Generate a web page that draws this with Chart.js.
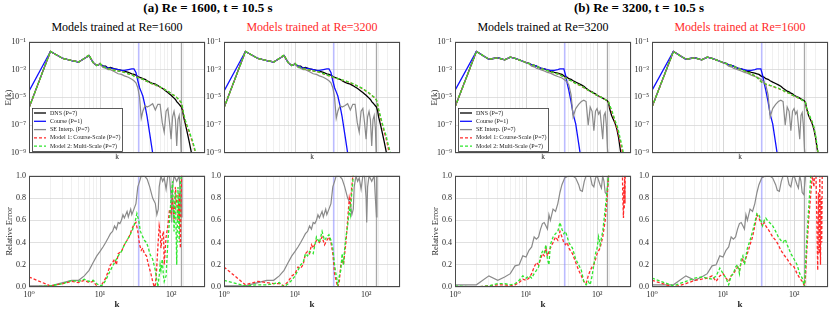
<!DOCTYPE html>
<html><head><meta charset="utf-8">
<script src="https://cdn.jsdelivr.net/npm/chart.js@4.4.0/dist/chart.umd.min.js"></script>
<style>
html,body{margin:0;padding:0;background:#fff;}
body{width:831px;height:310px;overflow:hidden;position:relative;font-family:'Liberation Serif','DejaVu Serif',serif;}
canvas{position:absolute;}
.t{position:absolute;text-align:center;white-space:nowrap;width:300px;font-family:'Liberation Serif','DejaVu Serif',serif;}
.h{font-weight:bold;font-size:13px;line-height:16px;top:0px;color:#000;}
.s{font-size:12px;line-height:14px;top:20px;}
</style></head><body>
<div class="t h" style="left:58px">(a) Re = 1600, t = 10.5 s</div>
<div class="t h" style="left:489px">(b) Re = 3200, t = 10.5 s</div>
<div class="t s" style="left:-33px;color:#000">Models trained at Re=1600</div>
<div class="t s" style="left:162px;color:#ff2a2a">Models trained at Re=3200</div>
<div class="t s" style="left:393px;color:#000">Models trained at Re=3200</div>
<div class="t s" style="left:590px;color:#ff2a2a">Models trained at Re=1600</div>
<script>
// ---------------- DATA ----------------
const legendLabels = ['DNS (P=7)','Course (P=1)','SE Interp. (P=7)','Model 1: Course-Scale (P=7)','Model 2: Multi-Scale (P=7)'];
const cutoffK = [35, 140];           // vertical reference lines (P=1 and P=7 resolution)
const yTopTicks = [1e-9,1e-7,1e-5,1e-3,1e-1];

const kSpec = [1,2,3,4,5,6,7,8,9,10,
 11,12,13,14,16,18,20,22,25,28,
 30,32,34,36,38,40,43,46,50,55,
 60,65,70,75,80,85,90,95,100,105,
 110,115,120,125,130,135,140,145,150,160,
 170,180,190,200,210,220,230,240,250];

// ---- Re = 1600 spectra ----
const dns1600 = [1.78e-6,2.0e-2,6.3e-3,4.5e-3,3.55e-3,6.3e-3,1.0e-2,3.16e-3,2.0e-3,2.5e-3,
 1.78e-3,1.78e-3,1.26e-3,1.41e-3,1.12e-3,1.0e-3,8.9e-4,7.9e-4,6.3e-4,5.0e-4,
 4.5e-4,4.0e-4,3.16e-4,2.8e-4,2.5e-4,2.24e-4,2.0e-4,1.58e-4,1.26e-4,1.0e-4,
 8.9e-5,7.1e-5,5.6e-5,4.5e-5,3.55e-5,2.8e-5,2.24e-5,1.78e-5,1.41e-5,1.12e-5,
 8.9e-6,7.1e-6,5.0e-6,4.0e-6,3.16e-6,2.5e-6,2.0e-6,1.12e-6,4.0e-7,1.0e-7,
 2.5e-8,6.3e-9,1.58e-9,4.0e-10,null,null,null,null,null];
const course1600 = [2.8e-5,2.0e-2,6.3e-3,4.5e-3,3.55e-3,6.3e-3,1.0e-2,3.16e-3,2.0e-3,2.5e-3,
 1.78e-3,1.58e-3,1.26e-3,1.26e-3,1.12e-3,1.0e-3,8.9e-4,8.9e-4,1.0e-3,1.12e-3,
 1.12e-3,6.3e-4,1.58e-4,5.0e-5,2.5e-5,1.26e-5,2.5e-6,4.0e-7,2.5e-8,1.0e-9,
 1.58e-10,null,null,null,null,null,null,null,null,null,
 null,null,null,null,null,null,null,null,null,null,
 null,null,null,null,null,null,null,null,null];
const se1600 = [1.78e-6,2.0e-2,6.3e-3,4.5e-3,3.55e-3,6.3e-3,1.0e-2,3.16e-3,2.0e-3,2.5e-3,
 1.41e-3,1.26e-3,1.0e-3,1.0e-3,7.1e-4,5.0e-4,4.5e-4,3.55e-4,2.8e-4,2.0e-4,
 1.58e-4,1.12e-4,5.0e-5,1.0e-5,3.16e-7,1.0e-6,2.5e-6,2.0e-6,2.5e-6,3.55e-6,
 1.26e-6,3.16e-6,3.16e-6,1.58e-7,3.16e-8,1.0e-6,1.58e-6,1.58e-7,1.0e-8,4.0e-7,
 1.0e-6,2.5e-7,3.16e-9,2.5e-7,5.0e-7,6.3e-8,3.16e-10,null,null,null,
 null,null,null,null,null,null,null,null,null];
const m1Re1600Tr1600 = [1.78e-6,2.0e-2,6.3e-3,4.5e-3,3.55e-3,6.3e-3,1.12e-2,3.16e-3,2.0e-3,2.8e-3,
 1.58e-3,1.41e-3,1.12e-3,1.12e-3,8.9e-4,7.9e-4,7.1e-4,6.3e-4,5.0e-4,4.5e-4,
 3.55e-4,3.16e-4,2.8e-4,2.5e-4,2.24e-4,2.0e-4,1.58e-4,1.41e-4,1.12e-4,8.9e-5,
 7.9e-5,6.3e-5,5.6e-5,4.5e-5,4.0e-5,3.16e-5,2.8e-5,2.24e-5,2.0e-5,1.58e-5,
 1.41e-5,1.12e-5,1.0e-5,7.9e-6,6.3e-6,5.0e-6,4.0e-6,1.58e-6,6.3e-7,1.58e-7,
 6.3e-8,3.16e-8,1.26e-8,6.3e-9,2.5e-9,1.0e-9,4.0e-10,null,null];
const m2Re1600Tr1600 = [1.78e-6,2.0e-2,6.3e-3,4.5e-3,3.55e-3,6.3e-3,1.12e-2,3.16e-3,2.0e-3,2.8e-3,
 1.58e-3,1.41e-3,1.12e-3,1.12e-3,8.9e-4,7.9e-4,7.1e-4,6.3e-4,5.0e-4,4.2e-4,
 3.4e-4,3.0e-4,2.7e-4,2.5e-4,2.24e-4,2.0e-4,1.6e-4,1.41e-4,1.15e-4,9.2e-5,
 8.1e-5,6.5e-5,5.8e-5,4.6e-5,4.0e-5,3.2e-5,2.9e-5,2.3e-5,2.0e-5,1.6e-5,
 1.41e-5,1.15e-5,1.0e-5,8.1e-6,6.5e-6,5.2e-6,4.2e-6,1.8e-6,7.1e-7,2.0e-7,
 7.9e-8,4.0e-8,1.58e-8,7.9e-9,3.16e-9,1.26e-9,5.0e-10,null,null];
const m1Re1600Tr3200 = [1.78e-6,2.0e-2,6.3e-3,4.5e-3,3.55e-3,6.3e-3,1.12e-2,3.16e-3,2.0e-3,2.8e-3,
 1.58e-3,1.41e-3,1.12e-3,1.12e-3,8.9e-4,7.9e-4,7.1e-4,6.3e-4,5.0e-4,4.0e-4,
 3.55e-4,3.16e-4,2.8e-4,2.5e-4,2.34e-4,2.24e-4,2.0e-4,1.78e-4,1.58e-4,1.32e-4,
 1.12e-4,9.5e-5,7.9e-5,6.6e-5,5.6e-5,4.8e-5,4.0e-5,3.4e-5,2.8e-5,2.4e-5,
 2.0e-5,1.66e-5,1.41e-5,1.17e-5,1.0e-5,7.9e-6,6.3e-6,3.16e-6,1.26e-6,3.16e-7,
 1.0e-7,3.16e-8,1.26e-8,4.0e-9,1.26e-9,4.0e-10,null,null,null];
const m2Re1600Tr3200 = [1.78e-6,2.0e-2,6.3e-3,4.5e-3,3.55e-3,6.3e-3,1.12e-2,3.16e-3,2.0e-3,2.8e-3,
 1.58e-3,1.41e-3,1.12e-3,1.12e-3,9.2e-4,8.1e-4,7.3e-4,6.5e-4,5.2e-4,4.2e-4,
 3.7e-4,3.3e-4,2.9e-4,2.6e-4,2.4e-4,2.24e-4,2.0e-4,1.8e-4,1.6e-4,1.35e-4,
 1.15e-4,9.8e-5,8.1e-5,6.8e-5,5.8e-5,5.0e-5,4.2e-5,3.5e-5,2.9e-5,2.5e-5,
 2.1e-5,1.7e-5,1.45e-5,1.2e-5,1.02e-5,8.1e-6,6.5e-6,3.5e-6,1.41e-6,4.0e-7,
 1.26e-7,4.5e-8,2.0e-8,6.3e-9,2.5e-9,1.0e-9,4.0e-10,null,null];

// ---- Re = 3200 spectra ----
const dns3200 = [2.0e-6,2.0e-2,5.6e-3,7.1e-3,5.0e-3,7.9e-3,6.3e-3,5.0e-3,4.0e-3,3.16e-3,
 2.8e-3,2.24e-3,2.0e-3,1.78e-3,1.26e-3,1.12e-3,8.9e-4,7.9e-4,6.3e-4,5.6e-4,
 5.0e-4,4.5e-4,3.55e-4,3.16e-4,2.8e-4,2.24e-4,2.0e-4,1.58e-4,1.26e-4,1.0e-4,
 7.9e-5,6.3e-5,4.5e-5,3.55e-5,2.8e-5,2.5e-5,2.0e-5,1.78e-5,1.41e-5,1.26e-5,
 1.12e-5,1.0e-5,8.9e-6,7.9e-6,7.1e-6,6.3e-6,5.6e-6,4.0e-6,1.58e-6,5.0e-7,
 2.5e-7,1.26e-7,5.0e-8,1.41e-8,2.5e-9,5.0e-10,null,null,null];
const course3200 = [3.16e-5,2.0e-2,5.6e-3,7.1e-3,5.0e-3,7.9e-3,6.3e-3,5.0e-3,4.0e-3,3.16e-3,
 2.8e-3,2.24e-3,2.0e-3,1.78e-3,1.26e-3,1.12e-3,1.0e-3,8.9e-4,8.9e-4,1.0e-3,
 1.12e-3,1.12e-3,1.12e-3,4.0e-4,1.0e-4,3.16e-5,5.0e-6,6.3e-7,1.26e-7,5.0e-9,
 2.5e-10,null,null,null,null,null,null,null,null,null,
 null,null,null,null,null,null,null,null,null,null,
 null,null,null,null,null,null,null,null,null];
const se3200 = [2.0e-6,2.0e-2,5.6e-3,7.1e-3,5.0e-3,7.9e-3,6.3e-3,5.0e-3,4.0e-3,3.16e-3,
 2.5e-3,1.78e-3,1.58e-3,1.26e-3,1.0e-3,7.9e-4,6.3e-4,5.6e-4,4.0e-4,3.16e-4,
 2.8e-4,2.5e-4,2.0e-4,1.58e-4,1.26e-4,7.9e-5,1.58e-5,4.0e-7,1.58e-6,3.16e-6,
 5.0e-6,6.3e-6,5.0e-6,1.0e-7,2.0e-6,1.0e-6,4.0e-8,1.0e-6,1.58e-6,6.3e-7,
 1.0e-6,1.0e-7,1.0e-8,5.0e-7,7.9e-7,1.0e-7,2.0e-9,3.16e-10,null,null,
 null,null,null,null,null,null,null,null,null];
const m1Re3200Tr3200 = [2.0e-6,2.0e-2,5.6e-3,7.1e-3,5.0e-3,7.9e-3,6.3e-3,5.0e-3,4.0e-3,3.16e-3,
 2.8e-3,2.24e-3,2.0e-3,1.78e-3,1.26e-3,1.0e-3,8.9e-4,7.1e-4,5.6e-4,5.0e-4,
 4.0e-4,3.55e-4,2.8e-4,2.5e-4,2.24e-4,1.78e-4,1.58e-4,1.26e-4,1.0e-4,7.9e-5,
 6.3e-5,5.0e-5,4.0e-5,3.16e-5,2.8e-5,2.24e-5,2.0e-5,1.58e-5,1.41e-5,1.26e-5,
 1.12e-5,1.0e-5,8.9e-6,7.9e-6,7.1e-6,6.3e-6,5.6e-6,4.5e-6,2.5e-6,1.0e-6,
 4.0e-7,1.58e-7,6.3e-8,2.5e-8,7.9e-9,2.5e-9,7.9e-10,null,null];
const m2Re3200Tr3200 = [2.0e-6,2.0e-2,5.6e-3,7.1e-3,5.0e-3,7.9e-3,6.3e-3,5.0e-3,4.0e-3,3.16e-3,
 2.8e-3,2.24e-3,2.0e-3,1.78e-3,1.26e-3,1.0e-3,8.5e-4,7.1e-4,5.8e-4,4.8e-4,
 4.1e-4,3.5e-4,2.9e-4,2.5e-4,2.2e-4,1.8e-4,1.6e-4,1.28e-4,1.02e-4,8.1e-5,
 6.5e-5,5.2e-5,4.1e-5,3.3e-5,2.8e-5,2.3e-5,2.0e-5,1.6e-5,1.41e-5,1.26e-5,
 1.12e-5,1.0e-5,8.9e-6,7.9e-6,7.1e-6,6.3e-6,5.6e-6,4.6e-6,2.8e-6,1.26e-6,
 5.0e-7,2.0e-7,1.0e-7,4.0e-8,1.26e-8,5.0e-9,1.58e-9,5.0e-10,null];
const m1Re3200Tr1600 = [2.0e-6,2.0e-2,5.6e-3,7.1e-3,5.0e-3,7.9e-3,6.3e-3,5.0e-3,4.0e-3,3.16e-3,
 2.8e-3,2.24e-3,2.0e-3,1.78e-3,1.26e-3,1.0e-3,7.9e-4,6.3e-4,5.0e-4,3.55e-4,
 2.8e-4,2.0e-4,1.41e-4,1.12e-4,1.0e-4,8.9e-5,7.9e-5,7.1e-5,6.3e-5,5.0e-5,
 4.5e-5,3.55e-5,3.16e-5,2.5e-5,2.24e-5,2.0e-5,1.58e-5,1.41e-5,1.26e-5,1.12e-5,
 1.0e-5,8.9e-6,7.9e-6,7.1e-6,6.3e-6,5.6e-6,5.0e-6,4.0e-6,1.58e-6,6.3e-7,
 3.16e-7,1.58e-7,6.3e-8,1.58e-8,3.16e-9,5.0e-10,null,null,null];
const m2Re3200Tr1600 = [2.0e-6,2.0e-2,5.6e-3,7.1e-3,5.0e-3,7.9e-3,6.3e-3,5.0e-3,4.0e-3,3.16e-3,
 2.8e-3,2.24e-3,2.0e-3,1.78e-3,1.26e-3,1.0e-3,8.1e-4,6.5e-4,5.0e-4,3.6e-4,
 2.7e-4,1.95e-4,1.41e-4,1.15e-4,1.0e-4,9.2e-5,8.1e-5,7.3e-5,6.5e-5,5.2e-5,
 4.6e-5,3.7e-5,3.2e-5,2.6e-5,2.3e-5,2.0e-5,1.6e-5,1.45e-5,1.28e-5,1.14e-5,
 1.02e-5,9.1e-6,8.1e-6,7.2e-6,6.4e-6,5.7e-6,5.1e-6,4.1e-6,1.7e-6,7.1e-7,
 3.5e-7,1.78e-7,7.1e-8,2.0e-8,4.0e-9,7.1e-10,null,null,null];

// ---- relative errors, Re = 1600 ----
const seErrK1600 = [1,2,3,4,5,6,7,8,9,10,11,12,13,14,15,16,17,18,19,20,21,22,24,25,27,28,30,32,34,36,38,42,46,50,55,60,63,66,68,72,76,80,85,90,95,100,102,105,110,120,130,135,140,142,150,200,300];
const seErr1600 = [0.01,0.01,0.04,0.06,0.06,0.1,0.15,0.22,0.28,0.32,0.36,0.4,0.44,0.48,0.5,0.55,0.52,0.58,0.57,0.6,0.65,0.62,
 0.68,0.63,0.7,0.65,0.7,0.75,0.9,0.95,1.0,
 1.0,0.97,0.9,0.8,0.75,0.65,0.7,0.9,1.0,0.95,0.98,0.88,1.0,1.0,0.8,0.58,0.9,1.0,0.95,1.0,0.8,0.63,1.0,1.0,1.0,1.0];
const m1ErrK1600Tr1600 = [1,2,3,4,5,6,7,8,9,10,11,12,13,14,15,16,17,18,20,22,24,26,28,30,32,34,36,38,40,42,45,48,52,55,58,60,62,65,68,70,72,75,78,80,85,90,95,100,105,110,115,120,125,130,135,140,145];
const m1Err1600Tr1600 = [0.09,0.01,0.03,0.05,0.04,0.06,0.04,0.05,0.01,0.0,0.04,0.08,0.14,0.2,0.22,0.25,0.2,0.3,
 0.32,0.38,0.42,0.46,0.52,0.56,0.58,0.5,0.38,0.33,0.35,0.3,
 0.28,0.2,0.12,0.05,0.0,0.02,0.12,0.35,0.55,0.5,0.35,0.45,0.5,0.2,
 0.45,0.55,0.7,0.65,0.8,0.6,0.9,0.75,0.6,0.85,0.35,1.0,1.2];
const m2ErrK1600Tr1600 = [1,2,3,4,5,6,7,8,9,10,11,12,14,16,18,20,22,24,26,28,30,32,33,35,37,40,42,45,48,50,55,60,65,68,70,72,75,78,80,85,90,95,100,105,110,115,120,125,130,135,140,145];
const m2Err1600Tr1600 = [0.0,0.01,0.03,0.06,0.05,0.07,0.05,0.06,0.03,0.01,0.02,0.06,
 0.15,0.22,0.28,0.32,0.38,0.42,0.46,0.5,0.55,0.62,0.66,0.6,0.5,0.45,0.42,0.4,0.35,0.3,
 0.25,0.15,0.0,0.1,0.2,0.15,0.25,0.1,0.05,
 0.1,0.4,0.6,0.8,0.95,0.5,0.85,0.2,0.9,0.4,0.95,1.0,1.2];
const m1ErrK1600Tr3200 = [1,2,3,4,5,6,7,8,9,10,11,12,13,14,15,16,17,18,20,22,24,26,28,30,32,34,36,38,40,42,44,46,48,50,52,55,58,60,62,65,68];
const m1Err1600Tr3200 = [0.18,0.02,0.05,0.04,0.03,0.03,0.01,0.05,0.1,0.12,0.18,0.17,0.2,0.3,0.32,0.3,0.38,0.35,
 0.42,0.4,0.45,0.38,0.42,0.45,0.4,0.3,0.12,0.05,0.0,0.05,0.2,0.25,0.2,0.3,0.4,
 0.6,0.8,0.75,0.85,1.0,1.2];
const m2ErrK1600Tr3200 = [1,2,3,4,5,6,7,8,9,10,11,12,13,14,15,16,18,20,22,24,26,28,30,32,34,36,38,40,42,44,46,48,50,52,55,58,60,62,65,70];
const m2Err1600Tr3200 = [0.06,0.01,0.02,0.02,0.03,0.04,0.0,0.03,0.06,0.1,0.15,0.2,0.22,0.3,0.28,0.32,
 0.3,0.45,0.4,0.5,0.42,0.45,0.47,0.42,0.35,0.2,0.1,0.02,0.1,0.15,0.3,0.2,0.35,0.45,
 0.55,0.7,0.65,0.8,0.95,1.2];

// ---- relative errors, Re = 3200 ----
const seErrK3200 = [1,2,3,4,5,6,7,8,9,10,11,12,13,14,15,16,17,18,19,20,21,22,24,26,28,30,32,35,40,45,50,55,58,62,66,70,80,85,90,95,100,110,115,120,125,130,137,140,145,150,200,300];
const seErr3200 = [0.02,0.02,0.1,0.06,0.09,0.12,0.19,0.2,0.28,0.27,0.33,0.36,0.45,0.43,0.45,0.52,0.57,0.58,0.55,0.52,0.65,0.6,
 0.7,0.68,0.75,0.85,0.92,0.98,1.0,1.0,0.98,0.92,0.87,0.86,0.95,1.0,
 1.0,0.92,0.9,0.98,1.0,0.92,0.89,1.0,0.95,0.85,0.83,0.9,1.0,1.0,1.0,1.0];
const m1ErrK3200Tr3200 = [1,2,3,4,5,6,7,8,9,10,11,12,13,14,15,16,17,18,19,20,22,24,26,28,30,32,34,36,38,40,45,50,55,60,65,70,75,80,85,90,95,100,110,120,130,140,145,150,225,230,235,238,241,244,247,250];
const m1Err3200Tr3200 = [0.0,0.0,0.01,0.02,0.02,0.01,0.02,0.04,0.07,0.06,0.08,0.12,0.18,0.22,0.2,0.25,0.3,0.28,0.35,0.28,
 0.35,0.4,0.45,0.42,0.5,0.45,0.4,0.38,0.4,0.35,
 0.3,0.22,0.15,0.1,0.05,0.03,0.1,0.15,0.18,0.2,0.25,0.3,
 0.35,0.45,0.6,0.85,1.0,1.2,
 1.2,0.8,0.62,0.9,0.7,1.0,0.75,1.2];
const m2ErrK3200Tr3200 = [1,2,3,4,5,6,7,8,9,10,11,12,13,14,15,16,17,18,19,20,21,22,24,26,28,30,32,34,36,38,40,45,50,55,60,65,70,75,80,85,90,95,100,105,110,120,130,140,145,150];
const m2Err3200Tr3200 = [0.01,0.0,0.01,0.03,0.03,0.02,0.03,0.06,0.1,0.08,0.1,0.08,0.12,0.15,0.18,0.28,0.32,0.3,0.38,0.25,0.2,0.38,
 0.45,0.48,0.5,0.58,0.52,0.48,0.5,0.45,0.4,
 0.35,0.25,0.2,0.15,0.05,0.02,0.05,0.02,0.1,0.2,0.3,0.35,0.45,0.38,
 0.5,0.7,0.9,1.0,1.2];
const m1ErrK3200Tr1600 = [1,2,3,4,5,6,7,8,9,10,11,12,13,14,15,16,17,18,19,20,22,24,26,28,30,32,34,36,38,40,45,50,55,60,65,70,80,90,100,110,120,130,140,145,150,160,170,180,190,200,205,210,215,220,225,230,235,240,245,250];
const m1Err3200Tr1600 = [0.06,0.0,0.03,0.06,0.07,0.08,0.1,0.05,0.1,0.12,0.08,0.05,0.1,0.12,0.15,0.18,0.15,0.22,0.25,0.22,
 0.3,0.38,0.45,0.55,0.65,0.62,0.58,0.55,0.58,0.55,
 0.5,0.45,0.42,0.38,0.33,0.3,
 0.25,0.2,0.18,0.12,0.08,0.05,0.01,
 0.1,0.3,0.6,0.8,1.0,0.9,1.2,
 0.9,0.5,0.15,0.85,0.3,1.0,0.2,0.8,0.4,1.2];
const m2ErrK3200Tr1600 = [1,2,3,4,5,6,7,8,9,10,11,12,13,14,15,16,17,18,19,20,22,24,26,28,30,32,34,36,38,40,42,45,50,55,60,65,70,75,80,90,100,110,120,130,140,145,150,160,170,175];
const m2Err3200Tr1600 = [0.08,0.01,0.05,0.08,0.09,0.08,0.07,0.1,0.17,0.12,0.08,0.02,0.1,0.12,0.18,0.2,0.12,0.25,0.28,0.2,
 0.35,0.42,0.5,0.58,0.66,0.65,0.6,0.55,0.6,0.62,0.6,
 0.58,0.55,0.5,0.45,0.42,0.4,0.43,0.38,
 0.3,0.25,0.2,0.12,0.08,0.0,
 0.2,0.4,0.7,0.95,1.2];

// ---------------- RENDERING ----------------
Chart.defaults.font.family = "'Liberation Serif','DejaVu Serif',serif";
Chart.defaults.font.size = 8;
Chart.defaults.color = '#262626';

const SUP = {'0':'\u2070','1':'\u00b9','2':'\u00b2','3':'\u00b3','4':'\u2074','5':'\u2075','6':'\u2076','7':'\u2077','8':'\u2078','9':'\u2079','-':'\u207b'};
function pow10Label(v){
  const l = Math.log10(v), e = Math.round(l);
  if (Math.abs(l - e) > 1e-6) return '';
  return '10' + String(e).split('').map(c => SUP[c]).join('');
}
function isDecade(v){ const l=Math.log10(v); return Math.abs(l-Math.round(l))<1e-6; }

const COL = {dns:'#000000', course:'#1010ff', se:'#8a8a8a', m1:'#ff2a2a', m2:'#2ee62e'};

function series(label, ks, vals, color, width, dash, order){
  return {label, data: ks.map((k,i)=>({x:k, y:vals[i]})), borderColor:color, borderWidth:width,
          borderDash:dash||[], pointRadius:0, tension:0, fill:false, spanGaps:false, order, inLegend:true};
}
function vline(k, y0, y1, color, width){
  return {label:'', data:[{x:k,y:y0},{x:k,y:y1}], borderColor:color, borderWidth:width,
          pointRadius:0, fill:false, order:10, inLegend:false};
}

const framePlugin = { id:'frame', afterDatasetsDraw(chart){
  const {ctx, chartArea:a} = chart; ctx.save();
  ctx.strokeStyle='#4a4a4a'; ctx.lineWidth=1;
  ctx.strokeRect(Math.round(a.left)+0.5, Math.round(a.top)+0.5, Math.round(a.right-a.left)-1, Math.round(a.bottom-a.top)-1);
  ctx.restore(); } };

const boxLegend = { id:'boxLegend', afterDatasetsDraw(chart, args, opts){
  if (!opts || !opts.display) return;
  const ctx = chart.ctx, a = chart.chartArea;
  const items = chart.data.datasets.filter(d => d.inLegend);
  const w = 90, h = 43, x0 = a.left + 3, y0 = a.bottom - 2 - h;
  ctx.save();
  ctx.fillStyle = '#fff'; ctx.fillRect(x0, y0, w, h);
  ctx.strokeStyle = '#333'; ctx.lineWidth = 0.8; ctx.strokeRect(x0+0.5, y0+0.5, w, h);
  ctx.font = "6px 'Liberation Serif'"; ctx.textBaseline = 'middle';
  items.forEach((d,i) => {
    const y = y0 + 5 + i*8.3;
    ctx.strokeStyle = d.borderColor; ctx.lineWidth = 1.3; ctx.setLineDash(d.borderDash && d.borderDash.length ? [3,2] : []);
    ctx.beginPath(); ctx.moveTo(x0+2, y); ctx.lineTo(x0+14, y); ctx.stroke(); ctx.setLineDash([]);
    ctx.fillStyle = '#222'; ctx.fillText(d.label, x0+18, y);
  });
  ctx.restore(); } };

const colLeft = [29, 224, 455, 652];
const gridX = ctx => (ctx.tick && isDecade(ctx.tick.value)) ? '#cdcdcd' : '#ececec';

function mkCanvas(col, top, h){
  const cv = document.createElement('canvas');
  cv.width = 208; cv.height = h;
  cv.style.left = (colLeft[col]-29) + 'px'; cv.style.top = top + 'px';
  document.body.appendChild(cv); return cv.getContext('2d');
}

function topChart(col, s, yTitle, legend){
  const ds = [
    vline(cutoffK[0], 1e-9, 1e-1, 'rgba(120,120,255,0.5)', 1.6),
    vline(cutoffK[1], 1e-9, 1e-1, '#a8a8a8', 1.3),
    series(legendLabels[0], kSpec, s.dns, COL.dns, 1.3, null, 5),
    series(legendLabels[1], kSpec, s.course, COL.course, 1.3, null, 4),
    series(legendLabels[2], kSpec, s.se, COL.se, 1.2, null, 3),
    series(legendLabels[3], kSpec, s.m1, COL.m1, 1.3, [3,2], 2),
    series(legendLabels[4], kSpec, s.m2, COL.m2, 1.3, [3,2], 1)
  ];
  new Chart(mkCanvas(col, 34, 128), {
    type:'line', data:{datasets:ds},
    plugins:[framePlugin, boxLegend],
    options:{
      responsive:false, animation:false, events:[],
      layout:{padding:{left:2, top:6, right:3, bottom:0}},
      plugins:{legend:{display:false}, tooltip:{enabled:false}, boxLegend:{display:legend}},
      scales:{
        x:{type:'logarithmic', min:1, max:300, afterFit:sc=>{sc.height=9;}, border:{display:false},
           grid:{color:gridX, drawTicks:false, lineWidth:0.8}, ticks:{display:false, autoSkip:false},
           title:{display:true, text:'k', font:{size:7.5}, padding:0}},
        y:{type:'logarithmic', min:1e-9, max:1e-1, afterFit:sc=>{sc.width=27;},
           afterBuildTicks:sc=>{sc.ticks = yTopTicks.map(v=>({value:v}));},
           border:{display:false}, grid:{color:'#d8d8d8', drawTicks:false, lineWidth:0.8},
           ticks:{padding:3, autoSkip:false, callback:v=>pow10Label(v)},
           title:{display:yTitle, text:'E(k)', font:{size:9}, padding:{top:1,bottom:0}}}
      }
    }
  });
}

function botChart(col, s, yTitle){
  const ds = [
    vline(cutoffK[0], 0, 1, 'rgba(120,120,255,0.5)', 1.6),
    vline(cutoffK[1], 0, 1, '#a8a8a8', 1.3),
    series(legendLabels[2], s.seK, s.se, COL.se, 1.2, null, 3),
    series(legendLabels[3], s.m1K, s.m1, COL.m1, 1.3, [3,2], 2),
    series(legendLabels[4], s.m2K, s.m2, COL.m2, 1.3, [3,2], 1)
  ];
  new Chart(mkCanvas(col, 168, 142), {
    type:'line', data:{datasets:ds},
    plugins:[framePlugin],
    options:{
      responsive:false, animation:false, events:[],
      layout:{padding:{left:2, top:6, right:3, bottom:0}},
      plugins:{legend:{display:false}, tooltip:{enabled:false}},
      scales:{
        x:{type:'logarithmic', min:1, max:300, afterFit:sc=>{sc.height=23;}, border:{display:false},
           grid:{color:gridX, drawTicks:false, lineWidth:0.8},
           ticks:{autoSkip:false, maxRotation:0, padding:3, callback:v=>pow10Label(v)},
           title:{display:true, text:'k', font:{size:9, weight:'bold'}, padding:0}},
        y:{type:'linear', min:0, max:1, afterFit:sc=>{sc.width=27;},
           border:{display:false}, grid:{color:'#d8d8d8', drawTicks:false, lineWidth:0.8},
           ticks:{padding:3, stepSize:0.2, callback:v=>Number(v).toFixed(1)},
           title:{display:yTitle, text:'Relative Error', font:{size:8.5}, padding:{top:3,bottom:0}}}
      }
    }
  });
}

topChart(0, {dns:dns1600, course:course1600, se:se1600, m1:m1Re1600Tr1600, m2:m2Re1600Tr1600}, true, true);
topChart(1, {dns:dns1600, course:course1600, se:se1600, m1:m1Re1600Tr3200, m2:m2Re1600Tr3200}, false, false);
topChart(2, {dns:dns3200, course:course3200, se:se3200, m1:m1Re3200Tr3200, m2:m2Re3200Tr3200}, true, true);
topChart(3, {dns:dns3200, course:course3200, se:se3200, m1:m1Re3200Tr1600, m2:m2Re3200Tr1600}, false, false);

botChart(0, {seK:seErrK1600, se:seErr1600, m1K:m1ErrK1600Tr1600, m1:m1Err1600Tr1600, m2K:m2ErrK1600Tr1600, m2:m2Err1600Tr1600}, true);
botChart(1, {seK:seErrK1600, se:seErr1600, m1K:m1ErrK1600Tr3200, m1:m1Err1600Tr3200, m2K:m2ErrK1600Tr3200, m2:m2Err1600Tr3200}, false);
botChart(2, {seK:seErrK3200, se:seErr3200, m1K:m1ErrK3200Tr3200, m1:m1Err3200Tr3200, m2K:m2ErrK3200Tr3200, m2:m2Err3200Tr3200}, true);
botChart(3, {seK:seErrK3200, se:seErr3200, m1K:m1ErrK3200Tr1600, m1:m1Err3200Tr1600, m2K:m2ErrK3200Tr1600, m2:m2Err3200Tr1600}, false);
</script>
</body></html>
